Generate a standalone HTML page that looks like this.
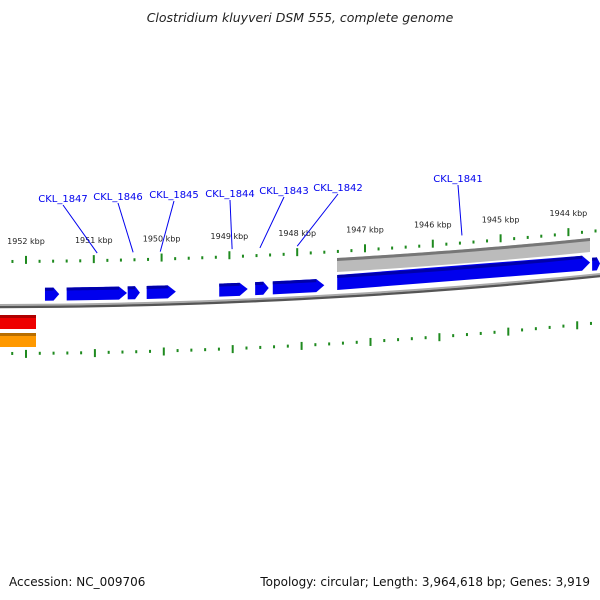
<!DOCTYPE html>
<html><head><meta charset="utf-8"><style>
body{margin:0;background:#fff}
svg{display:block;font-family:"DejaVu Sans","Liberation Sans",sans-serif}
</style></head><body>
<svg id="map" width="600" height="600" viewBox="0 0 600 600">
<text x="300" y="22" text-anchor="middle" font-size="12.5" font-style="italic" fill="#222">Clostridium kluyveri DSM 555, complete genome</text>
<text x="9" y="586" font-size="12" fill="#111">Accession: NC_009706</text>
<text x="590" y="586" text-anchor="end" font-size="12" fill="#111">Topology: circular; Length: 3,964,618 bp; Genes: 3,919</text>
<g id="layer"></g>
</svg>
<script>
const kbpTicks=[1952,1951,1950,1949,1948,1947,1946,1945,1944];
const fwdGenes=[[1951.72,1951.51],[1951.40,1950.51],[1950.50,1950.32],[1950.22,1949.79],[1949.15,1948.73],[1948.62,1948.42],[1948.36,1947.60],[1947.41,1943.68],[1943.65,1943.50]];
const geneLabels=["CKL_1847","CKL_1846","CKL_1845","CKL_1844","CKL_1843","CKL_1842","CKL_1841"];
const labelKbp=[1950.95,1950.42,1950.02,1948.96,1948.55,1948.00,1945.57];
const labelPos=[[63,198],[118,196],[174,194],[230,193],[284,190],[338,187],[458,178]];
const NS="http://www.w3.org/2000/svg";
const g=document.getElementById('layer');
const px=k=>26+(1952-k)*67.8;
const pxB=k=>26+(1952-k)*68.9;
const base=x=>306-0.00167*x-0.0000833*x*x;
function mk(t,a,p){const e=document.createElementNS(NS,t);for(const k in a)e.setAttribute(k,a[k]);(p||g).appendChild(e);return e;}
function band(x1,x2,o1,o2){let d="";const n=20;for(let i=0;i<=n;i++){const x=x1+(x2-x1)*i/n;d+=(i?"L":"M")+x+","+(base(x)+o1);}for(let i=n;i>=0;i--){const x=x1+(x2-x1)*i/n;d+="L"+x+","+(base(x)+o2);}return d+"Z";}
function line(o){let d="";for(let x=0;x<=600;x+=20)d+=(x?"L":"M")+x+","+(base(x)+o);return d;}
let e=mk('path',{d:line(1),stroke:'#555',"stroke-width":2.5,fill:'none'});

e=mk('path',{d:line(-1),stroke:'#aaa',"stroke-width":2,fill:'none'});

for(let k=1952.8;k>=1943.4;k-=0.2){
 const kr=Math.round(k*10)/10;const major=Math.abs(kr-Math.round(kr))<0.01;
 const xt=px(kr),xb=pxB(kr);
 if(xt>=0&&xt<=600){const y=base(xt)-45;
  e=mk('rect',{x:xt-1,y:major?y-5:y-1,width:2,height:major?8:3,fill:'#1f8a1f'});
  }
 if(xb>=0&&xb<=600){const y=base(xb)+47;
  e=mk('rect',{x:xb-1,y:major?y-3:y-1,width:2,height:major?8:3,fill:'#1f8a1f'});
  }
}
kbpTicks.forEach(k=>{const x=px(k);
 e=mk('text',{x:x,y:base(x)-62,"text-anchor":"middle","font-size":8,fill:'#222'});e.textContent=k+" kbp";
 });
e=mk('path',{d:band(337,590,-38,-24),fill:'#bbb'});

e=mk('path',{d:band(337,590,-38,-35),fill:'#777'});

fwdGenes.forEach(([a,b])=>{const x1=px(a),x2=Math.min(px(b),600);const big=x2-x1>200;
 const o1=big?-21:-18,o2=big?-6:-5;const tip=Math.min(8,(x2-x1)*0.4);
 const xs=x2-tip;const ym=base(x2)+(o1+o2)/2;
 const path="M"+x1+","+(base(x1)+o1)+"L"+xs+","+(base(xs)+o1)+"L"+x2+","+ym+"L"+xs+","+(base(xs)+o2)+"L"+x1+","+(base(x1)+o2)+"Z";
 e=mk('path',{d:path,fill:'#0000ee'});
 e=mk('path',{d:band(x1,xs,o1,o1+3),fill:'#0000aa'});
});
e=mk('rect',{x:0,y:315,width:36,height:14,fill:'#ee0000'});
e=mk('rect',{x:0,y:315,width:36,height:3,fill:'#b00000'});
e=mk('rect',{x:0,y:333,width:36,height:14,fill:'#ff9900'});
e=mk('rect',{x:0,y:333,width:36,height:3,fill:'#b86e00'});
geneLabels.forEach((s,i)=>{const [tx,ty]=labelPos[i];const x=px(labelKbp[i]);
 e=mk('line',{x1:tx,y1:ty+7,x2:x,y2:base(x)-52,stroke:'#0000ee',"stroke-width":1});
 
 e=mk('text',{x:tx,y:ty+4,"text-anchor":"middle","font-size":10,fill:'#0000ee'});e.textContent=s;
 });
</script>
</body></html>
